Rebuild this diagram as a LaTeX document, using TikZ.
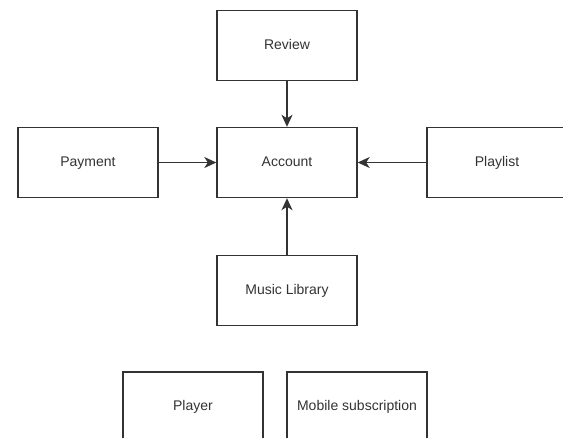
\documentclass[tikz,border=0pt]{standalone}
\usepackage{fontspec}
\setmainfont{Liberation Sans}
\usetikzlibrary{arrows.meta}
\definecolor{ink}{HTML}{333333}
\tikzset{
  entity/.style={draw=ink, line width=1.4pt, fill=white, minimum width=140pt,
    minimum height=70pt, inner sep=0pt, text height=10pt, text depth=3pt,
    font=\fontsize{14}{16}\selectfont, text=ink},
  link/.style={draw=ink, line width=1.4pt,
    -{Stealth[length=12pt,width=11pt,inset=3.5pt]}}
}
\begin{document}
\begin{tikzpicture}[x=1pt,y=-1pt]
  \useasboundingbox (0,0) rectangle (563,437);
  \clip (0,0) rectangle (563,437);
  \fill[white] (0,0) rectangle (563,437);
  \node[entity] (review)  at (287,45.5)  {Review};
  \node[entity] (account) at (287,162.5) {Account};
  \node[entity] (payment) at (88,162.5)  {Payment};
  \node[entity] (playlist) at (497,162.5) {Playlist};
  \node[entity] (library) at (287,290.5) {Music Library};
  \node[entity] (player)  at (193,407)   {Player};
  \node[entity] (mobile)  at (357,407)   {Mobile subscription};
  \draw[link] (review) -- (account);
  \draw[link] (payment) -- (account);
  \draw[link] (playlist) -- (account);
  \draw[link] (library) -- (account);
\end{tikzpicture}
\end{document}
